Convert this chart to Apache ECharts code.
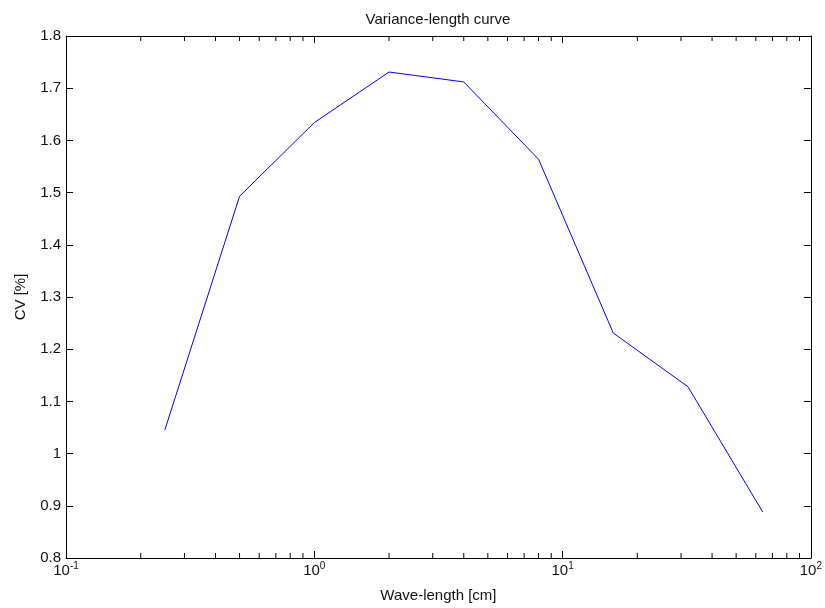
<!DOCTYPE html>
<html>
<head>
<meta charset="utf-8">
<script src="https://cdn.jsdelivr.net/npm/echarts@6/dist/echarts.min.js"></script>
<style>
  * { margin: 0; padding: 0; }
  body { background: #fff; }
  #chart { width: 825px; height: 608px; }
</style>
</head>
<body>
<div id="chart"></div>
<script>
// wave-length in cm (log axis) and coefficient of variation in %
var waveLength = [0.25, 0.5, 1, 2, 4, 8, 16, 32, 64];
var cv = [1.045, 1.493, 1.634, 1.731, 1.712, 1.564, 1.231, 1.128, 0.888];

var yMin = 0.8, yMax = 1.8, yStep = 0.1;
var xMin = 0.1, xMax = 100;

// minor ticks of the log axis: 2..9 times each decade
var minorTicks = [];
[0.1, 1, 10].forEach(function (d) {
  for (var k = 2; k <= 9; k++) minorTicks.push([+(k * d).toPrecision(3), yMin]);
});

var font = 'Liberation Sans, Arial, Helvetica, sans-serif';
var black = '#000';

function xLabel(v) {
  var e = Math.round(Math.log10(v));
  return '{b|10}{s|' + e + '}';
}

var xAxisBase = {
  type: 'log',
  logBase: 10,
  min: xMin,
  max: xMax,
  axisLine: { show: true, onZero: false, lineStyle: { color: black, width: 1 } },
  axisTick: { show: true, inside: true, length: 7, lineStyle: { color: black } },
  splitLine: { show: false },
  minorTick: { show: false }
};

var yAxisBase = {
  type: 'value',
  min: yMin,
  max: yMax,
  interval: yStep,
  axisLine: { show: true, onZero: false, lineStyle: { color: black, width: 1 } },
  axisTick: { show: true, inside: true, length: 7, lineStyle: { color: black } },
  splitLine: { show: false }
};

var chart = echarts.init(document.getElementById('chart'));
chart.setOption({
  animation: false,
  backgroundColor: '#fff',
  textStyle: { fontFamily: font },
  title: {
    text: 'Variance-length curve',
    left: 433,
    textAlign: 'center',
    top: 7,
    textStyle: { fontFamily: font, fontSize: 15, fontWeight: 'normal', color: '#111' }
  },
  grid: { left: 66, right: 12, top: 36, bottom: 50, containLabel: false },
  xAxis: [
    Object.assign({}, xAxisBase, {
      position: 'bottom',
      name: 'Wave-length [cm]',
      nameLocation: 'middle',
      nameGap: 30,
      nameTextStyle: { fontFamily: font, fontSize: 15, color: '#111' },
      axisLabel: {
        margin: 3,
        formatter: xLabel,
        rich: {
          b: { fontFamily: font, fontSize: 15, color: '#111', verticalAlign: 'bottom' },
          s: { fontFamily: font, fontSize: 10, color: '#111', verticalAlign: 'bottom', padding: [0, 0, 7, 0] }
        }
      }
    }),
    Object.assign({}, xAxisBase, {
      position: 'top',
      axisLabel: { show: false }
    })
  ],
  yAxis: [
    Object.assign({}, yAxisBase, {
      position: 'left',
      name: 'CV [%]',
      nameLocation: 'middle',
      nameRotate: 90,
      nameGap: 38,
      nameTextStyle: { fontFamily: font, fontSize: 15, color: '#111' },
      axisLabel: {
        margin: 5,
        fontFamily: font,
        fontSize: 15,
        color: '#111',
        formatter: function (v) { return String(+v.toFixed(1)); }
      }
    }),
    Object.assign({}, yAxisBase, {
      position: 'right',
      axisLabel: { show: false }
    })
  ],
  series: [
    {
      type: 'line',
      data: waveLength.map(function (x, i) { return [x, cv[i]]; }),
      xAxisIndex: 0,
      yAxisIndex: 0,
      showSymbol: false,
      symbol: 'none',
      lineStyle: { color: '#0000ff', width: 1 },
      itemStyle: { color: '#0000ff' },
      silent: true
    },
    {
      type: 'custom',
      xAxisIndex: 0,
      yAxisIndex: 0,
      data: minorTicks,
      silent: true,
      clip: false,
      renderItem: function (params, api) {
        var bottom = api.coord([api.value(0), yMin]);
        var top = api.coord([api.value(0), yMax]);
        var st = { stroke: black, lineWidth: 1 };
        return {
          type: 'group',
          children: [
            { type: 'line', shape: { x1: bottom[0], y1: bottom[1], x2: bottom[0], y2: bottom[1] - 5 }, style: st },
            { type: 'line', shape: { x1: top[0], y1: top[1], x2: top[0], y2: top[1] + 5 }, style: st }
          ]
        };
      }
    }
  ]
});
</script>
</body>
</html>
